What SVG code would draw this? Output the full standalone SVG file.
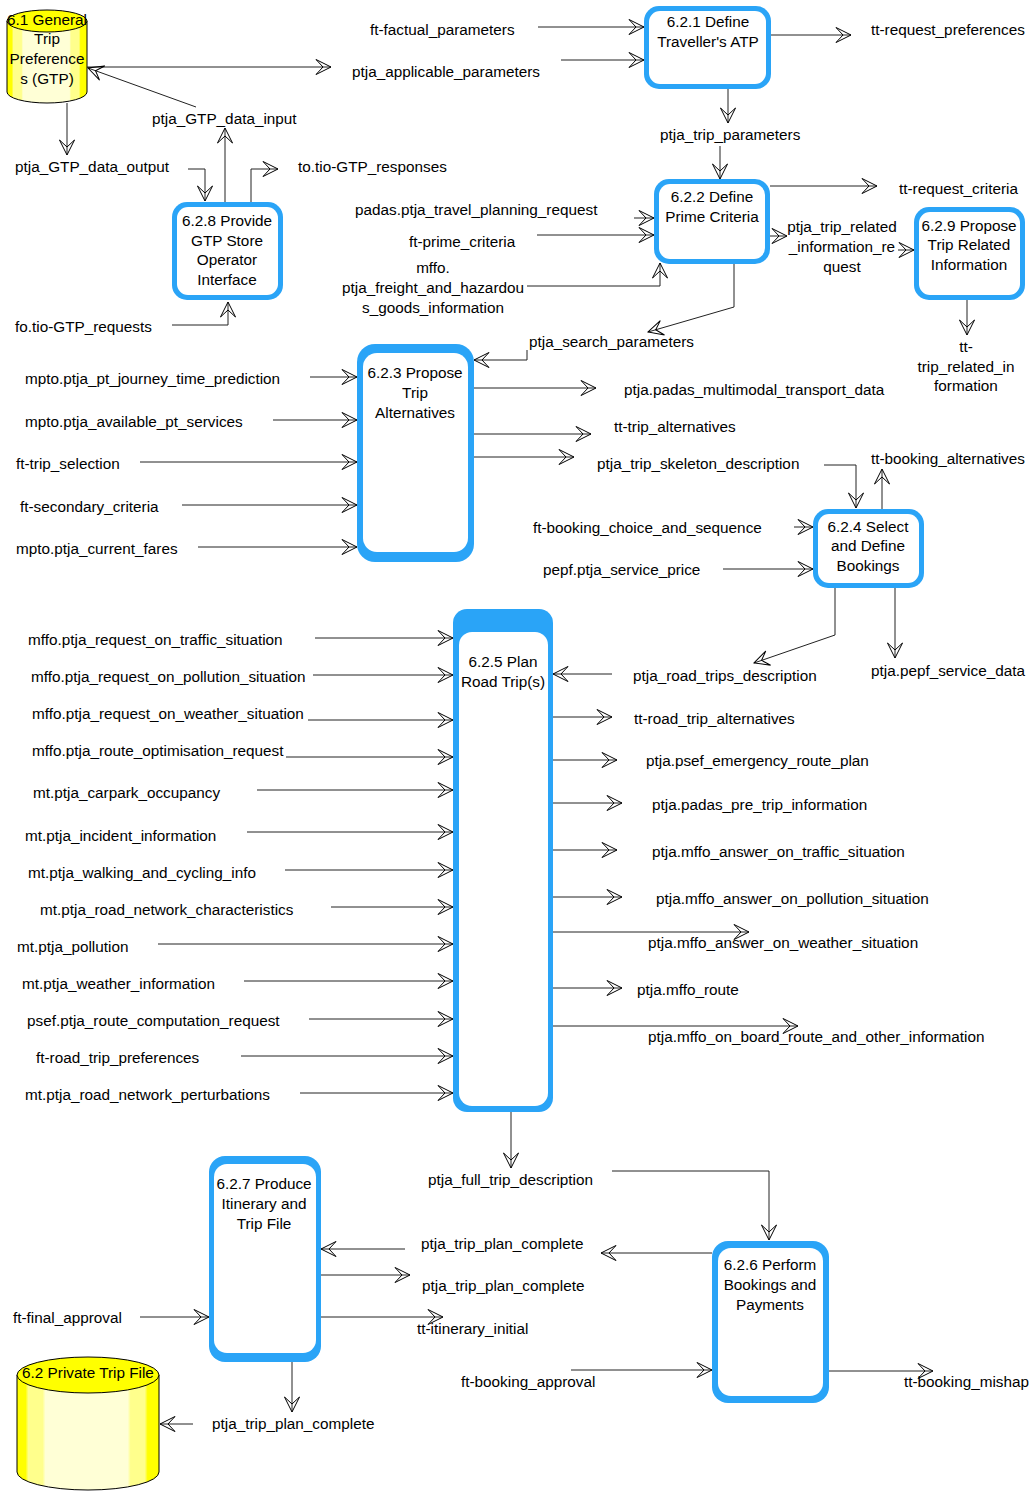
<svg xmlns="http://www.w3.org/2000/svg" width="1031" height="1492" viewBox="0 0 1031 1492">
  <style>
    .lbl { font-family: "Liberation Sans", Arial, sans-serif; font-size: 15.3px; fill: #000; }
    .mid { text-anchor: middle; }
    .flow { fill: none; stroke: #222; stroke-width: 1; marker-end: url(#arr); }
    .frame { fill: #2AA4F7; }
    .pane { fill: #fff; }
    .cyl { stroke: #000; stroke-width: 1; }
  </style>
  <defs>
    <marker id="arr" markerUnits="userSpaceOnUse" markerWidth="20" markerHeight="20" refX="16" refY="8" orient="auto" overflow="visible">
      <path d="M1,0.5 L16,8 L1,15.5 L8,8 Z" fill="none" stroke="#000" stroke-width="1" stroke-linejoin="miter"/>
    </marker>
    <linearGradient id="drum" x1="0" y1="0" x2="1" y2="0">
      <stop offset="0" stop-color="#FFFF00"/>
      <stop offset="0.06" stop-color="#FFFF00"/>
      <stop offset="0.08" stop-color="#FFFF8C"/>
      <stop offset="0.18" stop-color="#FFFF8C"/>
      <stop offset="0.2" stop-color="#FFFFD6"/>
      <stop offset="0.78" stop-color="#FFFFD6"/>
      <stop offset="0.8" stop-color="#FFFF8C"/>
      <stop offset="0.9" stop-color="#FFFF8C"/>
      <stop offset="0.92" stop-color="#FFFF00"/>
      <stop offset="1" stop-color="#FFFF00"/>
    </linearGradient>
  </defs>

  <rect width="1031" height="1492" fill="#fff"/>

  <!-- data stores -->
  <g id="store-6-1">
    <path class="cyl" fill="url(#drum)" d="M7,21 L7,92 A40,11 0 0 0 87,92 L87,21 Z"/>
    <ellipse class="cyl" cx="47" cy="21" rx="40" ry="11" fill="#FFFF00"/>
    <text class="lbl mid" x="47" y="25">6.1 General</text>
    <text class="lbl mid" x="47" y="44">Trip</text>
    <text class="lbl mid" x="47" y="64">Preference</text>
    <text class="lbl mid" x="47" y="84">s (GTP)</text>
  </g>
  <g id="store-6-2">
    <path class="cyl" fill="url(#drum)" d="M17,1375 L17,1472 A71,18 0 0 0 159,1472 L159,1375 Z"/>
    <ellipse class="cyl" cx="88" cy="1375" rx="71" ry="18" fill="#FFFF00"/>
    <text class="lbl mid" x="88" y="1378">6.2 Private Trip File</text>
  </g>

  <!-- processes -->
  <g id="p-6-2-1">
    <rect class="frame" x="644" y="6" width="127" height="83" rx="15"/>
    <rect class="pane" x="649" y="11" width="117" height="73" rx="11"/>
    <text class="lbl mid" x="708" y="27">6.2.1 Define</text>
    <text class="lbl mid" x="708" y="47">Traveller's ATP</text>
  </g>
  <g id="p-6-2-2">
    <rect class="frame" x="654" y="179" width="116" height="85" rx="15"/>
    <rect class="pane" x="659" y="184" width="106" height="75" rx="11"/>
    <text class="lbl mid" x="712" y="202">6.2.2 Define</text>
    <text class="lbl mid" x="712" y="222">Prime Criteria</text>
  </g>
  <g id="p-6-2-9">
    <rect class="frame" x="914" y="207" width="111" height="93" rx="15"/>
    <rect class="pane" x="919" y="212" width="101" height="83" rx="11"/>
    <text class="lbl mid" x="969" y="231">6.2.9 Propose</text>
    <text class="lbl mid" x="969" y="250">Trip Related</text>
    <text class="lbl mid" x="969" y="270">Information</text>
  </g>
  <g id="p-6-2-8">
    <rect class="frame" x="172" y="202" width="111" height="98" rx="15"/>
    <rect class="pane" x="177" y="207" width="101" height="88" rx="11"/>
    <text class="lbl mid" x="227" y="226">6.2.8 Provide</text>
    <text class="lbl mid" x="227" y="246">GTP Store</text>
    <text class="lbl mid" x="227" y="265">Operator</text>
    <text class="lbl mid" x="227" y="285">Interface</text>
  </g>
  <g id="p-6-2-3">
    <rect class="frame" x="357" y="344" width="117" height="218" rx="18"/>
    <rect class="pane" x="363" y="353" width="105" height="199" rx="14"/>
    <text class="lbl mid" x="415" y="378">6.2.3 Propose</text>
    <text class="lbl mid" x="415" y="398">Trip</text>
    <text class="lbl mid" x="415" y="418">Alternatives</text>
  </g>
  <g id="p-6-2-4">
    <rect class="frame" x="813" y="509" width="111" height="79" rx="15"/>
    <rect class="pane" x="818" y="514" width="101" height="69" rx="11"/>
    <text class="lbl mid" x="868" y="532">6.2.4 Select</text>
    <text class="lbl mid" x="868" y="551">and Define</text>
    <text class="lbl mid" x="868" y="571">Bookings</text>
  </g>
  <g id="p-6-2-5">
    <rect class="frame" x="453" y="609" width="100" height="503" rx="14"/>
    <rect class="pane" x="459" y="632" width="89" height="474" rx="13"/>
    <text class="lbl mid" x="503" y="667">6.2.5 Plan</text>
    <text class="lbl mid" x="503" y="687">Road Trip(s)</text>
  </g>
  <g id="p-6-2-7">
    <rect class="frame" x="209" y="1156" width="112" height="206" rx="16"/>
    <rect class="pane" x="214" y="1164" width="102" height="189" rx="13"/>
    <text class="lbl mid" x="264" y="1189">6.2.7 Produce</text>
    <text class="lbl mid" x="264" y="1209">Itinerary and</text>
    <text class="lbl mid" x="264" y="1229">Trip File</text>
  </g>
  <g id="p-6-2-6">
    <rect class="frame" x="712" y="1241" width="117" height="162" rx="16"/>
    <rect class="pane" x="718" y="1248" width="105" height="148" rx="13"/>
    <text class="lbl mid" x="770" y="1270">6.2.6 Perform</text>
    <text class="lbl mid" x="770" y="1290">Bookings and</text>
    <text class="lbl mid" x="770" y="1310">Payments</text>
  </g>

  <!-- flows -->
  <g id="flows">
    <path class="flow" d="M87,67 L331,67"/>
    <path class="flow" d="M196,107 L88,68"/>
    <path class="flow" d="M67,103 L67,155"/>
    <path class="flow" d="M188,169 L205,169 L205,201"/>
    <path class="flow" d="M225,202 L225,128"/>
    <path class="flow" d="M251,202 L251,169 L278,169"/>
    <path class="flow" d="M172,325 L228,325 L228,302"/>
    <path class="flow" d="M538,27 L644,27"/>
    <path class="flow" d="M561,60 L644,60"/>
    <path class="flow" d="M771,35 L851,35"/>
    <path class="flow" d="M728,89 L728,123"/>
    <path class="flow" d="M720,146 L720,179"/>
    <path class="flow" d="M770,186 L877,186"/>
    <path class="flow" d="M634,218 L654,218"/>
    <path class="flow" d="M537,235 L654,235"/>
    <path class="flow" d="M527,286 L660,286 L660,263"/>
    <path class="flow" d="M770,236 L787,236"/>
    <path class="flow" d="M898,250 L914,250"/>
    <path class="flow" d="M967,300 L967,335"/>
    <path class="flow" d="M734,264 L734,307 L648,332"/>
    <path class="flow" d="M527,350 L527,360 L474,360"/>

    <path class="flow" d="M310,377 L357,377"/>
    <path class="flow" d="M273,420 L357,420"/>
    <path class="flow" d="M140,462 L357,462"/>
    <path class="flow" d="M182,505 L357,505"/>
    <path class="flow" d="M198,547 L357,547"/>
    <path class="flow" d="M474,388 L596,388"/>
    <path class="flow" d="M474,434 L591,434"/>
    <path class="flow" d="M474,457 L574,457"/>
    <path class="flow" d="M824,465 L856,465 L856,508"/>
    <path class="flow" d="M882,509 L882,469"/>
    <path class="flow" d="M794,527 L813,527"/>
    <path class="flow" d="M723,569 L813,569"/>
    <path class="flow" d="M835,588 L835,635 L754,663"/>
    <path class="flow" d="M895,588 L895,658"/>

    <path class="flow" d="M612,674 L553,674"/>
    <path class="flow" d="M553,717 L612,717"/>
    <path class="flow" d="M553,760 L617,760"/>
    <path class="flow" d="M553,803 L622,803"/>
    <path class="flow" d="M553,850 L617,850"/>
    <path class="flow" d="M553,897 L622,897"/>
    <path class="flow" d="M553,932 L749,932"/>
    <path class="flow" d="M553,988 L622,988"/>
    <path class="flow" d="M553,1026 L798,1026"/>

    <path class="flow" d="M315,638 L453,638"/>
    <path class="flow" d="M313,675 L453,675"/>
    <path class="flow" d="M308,720 L453,720"/>
    <path class="flow" d="M286,757 L453,757"/>
    <path class="flow" d="M257,790 L453,790"/>
    <path class="flow" d="M247,832 L453,832"/>
    <path class="flow" d="M285,870 L453,870"/>
    <path class="flow" d="M331,907 L453,907"/>
    <path class="flow" d="M158,944 L453,944"/>
    <path class="flow" d="M244,981 L453,981"/>
    <path class="flow" d="M309,1019 L453,1019"/>
    <path class="flow" d="M241,1056 L453,1056"/>
    <path class="flow" d="M300,1093 L453,1093"/>

    <path class="flow" d="M511,1112 L511,1168"/>
    <path class="flow" d="M612,1171 L769,1171 L769,1240"/>
    <path class="flow" d="M712,1253 L601,1253"/>
    <path class="flow" d="M405,1249 L321,1249"/>
    <path class="flow" d="M321,1275 L410,1275"/>
    <path class="flow" d="M321,1317 L443,1317"/>
    <path class="flow" d="M140,1317 L209,1317"/>
    <path class="flow" d="M292,1362 L292,1412"/>
    <path class="flow" d="M193,1424 L160,1424"/>
    <path class="flow" d="M571,1370 L712,1370"/>
    <path class="flow" d="M829,1371 L933,1371"/>
  </g>

  <!-- flow labels -->
  <g id="flow-labels">
    <text class="lbl" x="370" y="35">ft-factual_parameters</text>
    <text class="lbl" x="352" y="77">ptja_applicable_parameters</text>
    <text class="lbl" x="871" y="35">tt-request_preferences</text>
    <text class="lbl" x="152" y="124">ptja_GTP_data_input</text>
    <text class="lbl" x="15" y="172">ptja_GTP_data_output</text>
    <text class="lbl" x="298" y="172">to.tio-GTP_responses</text>
    <text class="lbl" x="660" y="140">ptja_trip_parameters</text>
    <text class="lbl" x="899" y="194">tt-request_criteria</text>
    <text class="lbl" x="355" y="215">padas.ptja_travel_planning_request</text>
    <text class="lbl" x="409" y="247">ft-prime_criteria</text>
    <text class="lbl mid" x="433" y="273">mffo.</text>
    <text class="lbl mid" x="433" y="293">ptja_freight_and_hazardou</text>
    <text class="lbl mid" x="433" y="313">s_goods_information</text>
    <text class="lbl mid" x="842" y="232">ptja_trip_related</text>
    <text class="lbl mid" x="842" y="252">_information_re</text>
    <text class="lbl mid" x="842" y="272">quest</text>
    <text class="lbl mid" x="966" y="352">tt-</text>
    <text class="lbl mid" x="966" y="372">trip_related_in</text>
    <text class="lbl mid" x="966" y="391">formation</text>
    <text class="lbl" x="15" y="332">fo.tio-GTP_requests</text>
    <text class="lbl" x="529" y="347">ptja_search_parameters</text>

    <text class="lbl" x="25" y="384">mpto.ptja_pt_journey_time_prediction</text>
    <text class="lbl" x="25" y="427">mpto.ptja_available_pt_services</text>
    <text class="lbl" x="16" y="469">ft-trip_selection</text>
    <text class="lbl" x="20" y="512">ft-secondary_criteria</text>
    <text class="lbl" x="16" y="554">mpto.ptja_current_fares</text>
    <text class="lbl" x="624" y="395">ptja.padas_multimodal_transport_data</text>
    <text class="lbl" x="614" y="432">tt-trip_alternatives</text>
    <text class="lbl" x="597" y="469">ptja_trip_skeleton_description</text>
    <text class="lbl" x="871" y="464">tt-booking_alternatives</text>
    <text class="lbl" x="533" y="533">ft-booking_choice_and_sequence</text>
    <text class="lbl" x="543" y="575">pepf.ptja_service_price</text>

    <text class="lbl" x="633" y="681">ptja_road_trips_description</text>
    <text class="lbl" x="871" y="676">ptja.pepf_service_data</text>
    <text class="lbl" x="634" y="724">tt-road_trip_alternatives</text>
    <text class="lbl" x="646" y="766">ptja.psef_emergency_route_plan</text>
    <text class="lbl" x="652" y="810">ptja.padas_pre_trip_information</text>
    <text class="lbl" x="652" y="857">ptja.mffo_answer_on_traffic_situation</text>
    <text class="lbl" x="656" y="904">ptja.mffo_answer_on_pollution_situation</text>
    <text class="lbl" x="648" y="948">ptja.mffo_answer_on_weather_situation</text>
    <text class="lbl" x="637" y="995">ptja.mffo_route</text>
    <text class="lbl" x="648" y="1042">ptja.mffo_on_board_route_and_other_information</text>

    <text class="lbl" x="28" y="645">mffo.ptja_request_on_traffic_situation</text>
    <text class="lbl" x="31" y="682">mffo.ptja_request_on_pollution_situation</text>
    <text class="lbl" x="32" y="719">mffo.ptja_request_on_weather_situation</text>
    <text class="lbl" x="32" y="756">mffo.ptja_route_optimisation_request</text>
    <text class="lbl" x="33" y="798">mt.ptja_carpark_occupancy</text>
    <text class="lbl" x="25" y="841">mt.ptja_incident_information</text>
    <text class="lbl" x="28" y="878">mt.ptja_walking_and_cycling_info</text>
    <text class="lbl" x="40" y="915">mt.ptja_road_network_characteristics</text>
    <text class="lbl" x="17" y="952">mt.ptja_pollution</text>
    <text class="lbl" x="22" y="989">mt.ptja_weather_information</text>
    <text class="lbl" x="27" y="1026">psef.ptja_route_computation_request</text>
    <text class="lbl" x="36" y="1063">ft-road_trip_preferences</text>
    <text class="lbl" x="25" y="1100">mt.ptja_road_network_perturbations</text>

    <text class="lbl" x="428" y="1185">ptja_full_trip_description</text>
    <text class="lbl" x="421" y="1249">ptja_trip_plan_complete</text>
    <text class="lbl" x="422" y="1291">ptja_trip_plan_complete</text>
    <text class="lbl" x="417" y="1334">tt-itinerary_initial</text>
    <text class="lbl" x="13" y="1323">ft-final_approval</text>
    <text class="lbl" x="461" y="1387">ft-booking_approval</text>
    <text class="lbl" x="904" y="1387">tt-booking_mishap</text>
    <text class="lbl" x="212" y="1429">ptja_trip_plan_complete</text>
  </g>
</svg>
